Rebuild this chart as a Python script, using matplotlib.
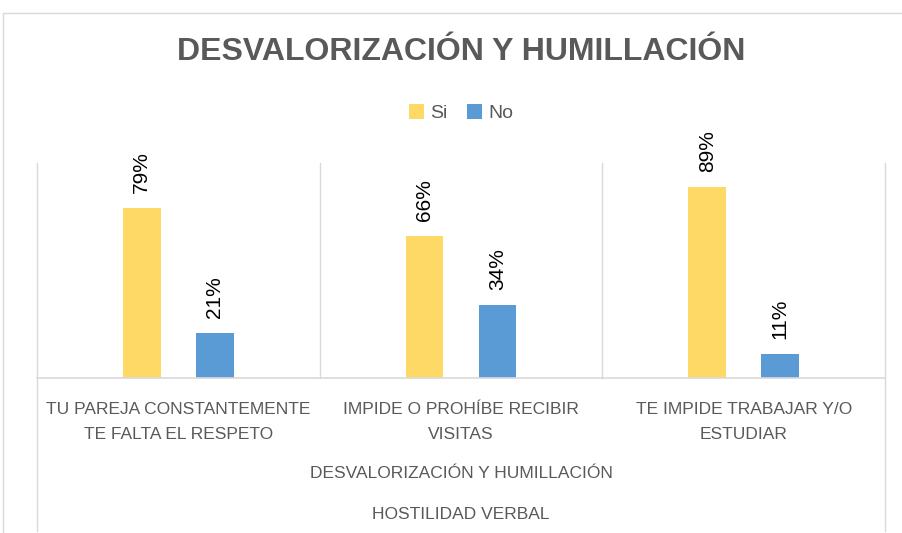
import matplotlib.pyplot as plt
from matplotlib.patches import Rectangle

categories = ["TU PAREJA CONSTANTEMENTE\nTE FALTA EL RESPETO",
              "IMPIDE O PROHÍBE RECIBIR\nVISITAS",
              "TE IMPIDE TRABAJAR Y/O\nESTUDIAR"]
si = [0.79, 0.66, 0.89]
no = [0.21, 0.34, 0.11]
group_label = "DESVALORIZACIÓN Y HUMILLACIÓN"
top_label = "HOSTILIDAD VERBAL"
title = "DESVALORIZACIÓN Y HUMILLACIÓN"

yellow = '#FFD966'
blue = '#5B9BD5'
grey_text = '#595959'
grid_col = '#D9D9D9'

plt.rcParams['font.family'] = ['Liberation Sans', 'DejaVu Sans']

fig = plt.figure(figsize=(9.02, 5.33), dpi=100)
# outer chart border (right and bottom edges fall outside the image)
fig.patches.append(Rectangle((3/902, -0.05), 1.0, 1 - 13/533 + 0.05,
                             transform=fig.transFigure, fill=False,
                             edgecolor=grid_col, linewidth=1))

ax = fig.add_axes([37/902, 155/533, 848/902, 215/533])
x = list(range(len(categories)))
off = 0.129
w = 0.134
b1 = ax.bar([i - off for i in x], si, width=w, color=yellow, label='Si')
b2 = ax.bar([i + off for i in x], no, width=w, color=blue, label='No')

for bars, vals in ((b1, si), (b2, no)):
    for r, v in zip(bars, vals):
        ax.text(r.get_x() + r.get_width() / 2, v + 0.07, f"{v:.0%}",
                rotation=90, ha='center', va='bottom', fontsize=15, color='black')

ax.set_xlim(-0.5, 2.5)
ax.set_ylim(0, 1)
for s in ax.spines.values():
    s.set_visible(False)
ax.set_xticks([])
ax.set_yticks([])
ax.axhline(0, color=grid_col, linewidth=1.2, clip_on=False)
for sx in [-0.5, 2.5]:
    ax.axvline(sx, ymin=-0.71, ymax=1, color=grid_col, linewidth=1, clip_on=False)
for sx in [0.5, 1.5]:
    ax.axvline(sx, ymin=0, ymax=1, color=grid_col, linewidth=1, clip_on=False)

# multi-level category labels
for i, c in enumerate(categories):
    ax.text(i, -0.11, c, ha='center', va='top', fontsize=12.5, color=grey_text,
            linespacing=1.9, transform=ax.get_xaxis_transform())
ax.text(1, -0.445, group_label, ha='center', va='center', fontsize=12.5,
        color=grey_text, transform=ax.get_xaxis_transform())
ax.text(1, -0.635, top_label, ha='center', va='center', fontsize=12.5,
        color=grey_text, transform=ax.get_xaxis_transform())

fig.text(461/902, 1 - 52/533, title, ha='center', va='center', fontsize=23,
         fontweight='bold', color=grey_text)
fig.legend(handles=[b1, b2], labels=['Si', 'No'], loc='center',
           bbox_to_anchor=(461/902, 1 - 113/533), ncol=2, frameon=False,
           fontsize=14, handlelength=0.8, handleheight=0.8, handletextpad=0.3,
           columnspacing=1.0, labelcolor=grey_text)

fig.savefig('out.png', dpi=100)
